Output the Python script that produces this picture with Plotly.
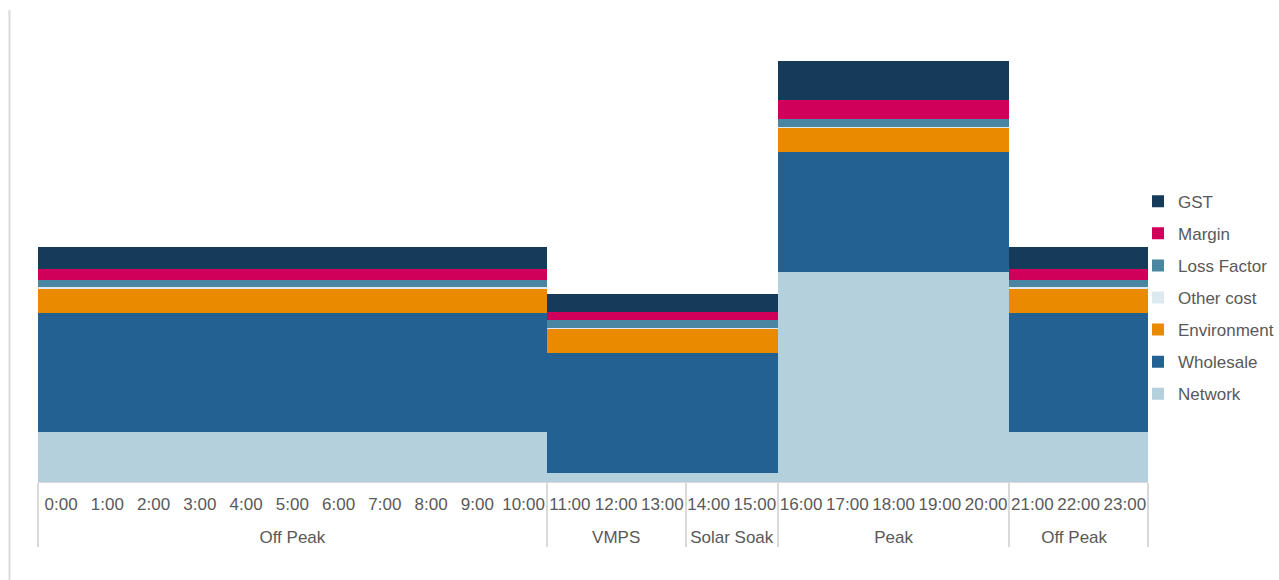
import plotly.graph_objects as go

hours = [f"{h}:00" for h in range(24)]
periods = (["Off Peak"] * 11 + ["VMPS"] * 3 + ["Solar Soak"] * 2 +
           ["Peak"] * 5 + ["Off Peak "] * 3)

# component values per period (same unit throughout)
network_p = {"Off Peak": 5.0, "VMPS": 0.93, "Solar Soak": 0.93, "Peak": 21.03}
wholesale_p = {"Off Peak": 11.93, "VMPS": 12.0, "Solar Soak": 12.0, "Peak": 11.97}
environment_p = {"Off Peak": 2.44, "VMPS": 2.37, "Solar Soak": 2.37, "Peak": 2.43}
other_p = {"Off Peak": 0.1, "VMPS": 0.1, "Solar Soak": 0.1, "Peak": 0.1}
loss_p = {"Off Peak": 0.76, "VMPS": 0.8, "Solar Soak": 0.8, "Peak": 0.74}
margin_p = {"Off Peak": 1.07, "VMPS": 0.83, "Solar Soak": 0.83, "Peak": 1.93}
gst_p = {"Off Peak": 2.23, "VMPS": 1.77, "Solar Soak": 1.77, "Peak": 3.9}

def series(d):
    return [d[p.strip()] for p in periods]

series_names = ["Network", "Wholesale", "Environment", "Other cost",
                "Loss Factor", "Margin", "GST"]
series_vals = [series(network_p), series(wholesale_p), series(environment_p),
               series(other_p), series(loss_p), series(margin_p), series(gst_p)]
colors = ["#B4D0DC", "#236192", "#EA8A00", "#DCE9EF",
          "#4A86A1", "#D0005A", "#163A5A"]

LBL = "<span style='font-size:17px'>{}</span>"
hour_lbl = [LBL.format(h) for h in hours]
period_lbl = ["<br>" + LBL.format(p) for p in periods]
# keep trailing-space distinction for the second Off Peak group
period_lbl = [lbl + (" " if p.endswith(" ") else "") for lbl, p in zip(period_lbl, periods)]

fig = go.Figure()
for i, (name, vals, col) in enumerate(zip(series_names, series_vals, colors)):
    fig.add_trace(go.Bar(
        x=[period_lbl, hour_lbl], y=vals, name=name, legendgroup=name,
        legendrank=100 - i,
        marker=dict(color=col, line=dict(width=0)),
    ))

txt = "#595959"
fig.update_layout(
    width=1279, height=580,
    barmode="stack", bargap=0,
    paper_bgcolor="white", plot_bgcolor="white",
    margin=dict(l=38, r=131, t=20, b=98, autoexpand=False),
    font=dict(family="Liberation Sans, Arial, sans-serif", size=17, color=txt),
    showlegend=True,
    legend=dict(traceorder="grouped", tracegroupgap=7,
                x=0.991, xanchor="left", y=0.399, yanchor="middle",
                font=dict(size=17, color=txt), bgcolor="rgba(0,0,0,0)"),
    xaxis=dict(type="multicategory", showline=True, linecolor="#D9D9D9",
               linewidth=1, ticks="", showgrid=False, tickangle=0,
               ticklabelstandoff=9,
               dividercolor="#D9D9D9", dividerwidth=1.5,
               tickfont=dict(size=15.4, color=txt)),
    yaxis=dict(range=[0, 46.2], visible=False, showgrid=False),
    shapes=[dict(type="line", xref="paper", yref="paper",
                 x0=-0.0257, x1=-0.0257, y0=-0.212, y1=1.0216,
                 line=dict(color="#D9D9D9", width=2))],
)

fig.write_html("out.html")
